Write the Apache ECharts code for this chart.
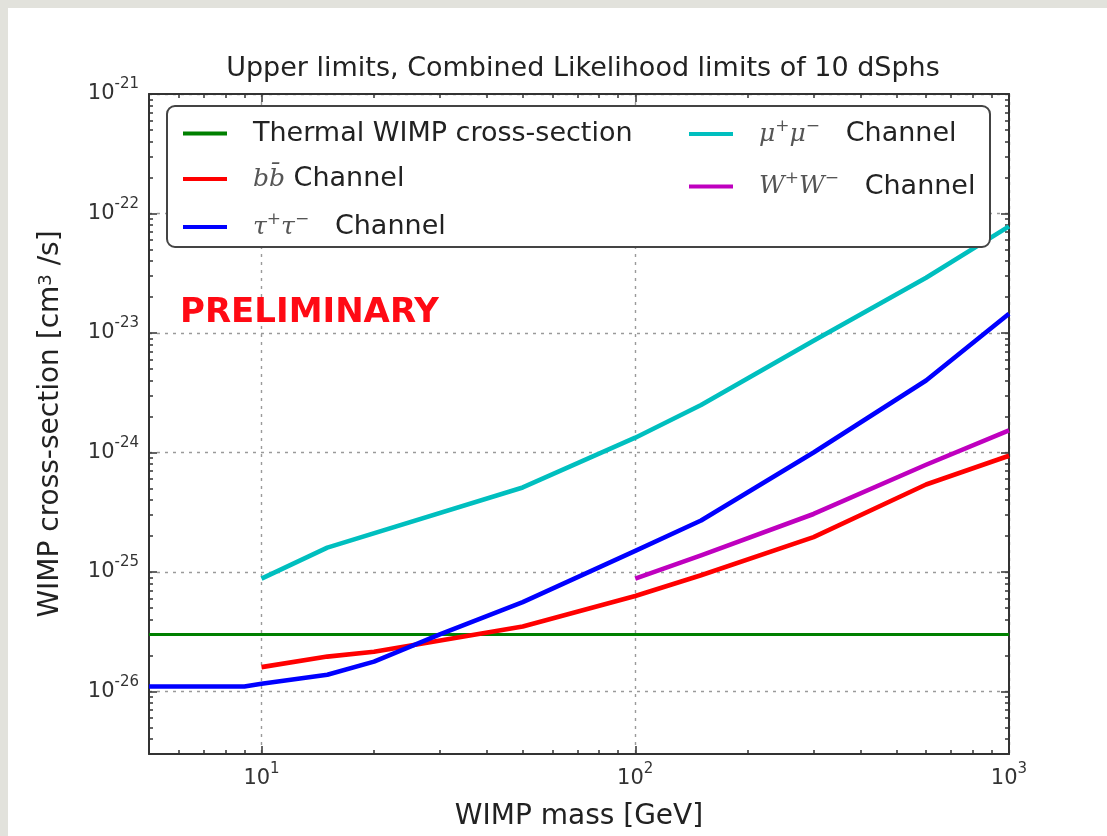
<!DOCTYPE html>
<html>
<head>
<meta charset="utf-8">
<script src="https://cdn.jsdelivr.net/npm/echarts@6/dist/echarts.min.js"></script>
<style>
  html, body { margin: 0; padding: 0; width: 1107px; height: 836px; overflow: hidden; background: #e2e2dc; }
  #chart { position: absolute; left: 8px; top: 8px; width: 1099px; height: 828px; background: #ffffff; }
</style>
</head>
<body>
<div id="chart"></div>
<script>
// WIMP annihilation cross-section upper limits (cm^3/s) vs WIMP mass (GeV)
const massThermal = [5, 1000];
const sigmaThermal = [3e-26, 3e-26];

const massBB = [10, 15, 20, 50, 100, 150, 300, 600, 1000];
const sigmaBB = [1.6e-26, 1.96e-26, 2.15e-26, 3.5e-26, 6.3e-26, 9.4e-26, 1.96e-25, 5.4e-25, 9.4e-25];

const massTau = [5, 9, 10, 15, 20, 30, 50, 100, 150, 300, 600, 1000];
const sigmaTau = [1.1e-26, 1.1e-26, 1.16e-26, 1.38e-26, 1.78e-26, 3.0e-26, 5.6e-26, 1.5e-25, 2.7e-25, 1.0e-24, 4.0e-24, 1.45e-23];

const massMu = [10, 15, 50, 100, 150, 300, 600, 1000];
const sigmaMu = [8.8e-26, 1.6e-25, 5.1e-25, 1.33e-24, 2.5e-24, 8.6e-24, 2.9e-23, 7.8e-23];

const massWW = [100, 150, 300, 600, 1000];
const sigmaWW = [8.8e-26, 1.38e-25, 3.06e-25, 7.9e-25, 1.53e-24];

const xMajorTicks = [10, 100, 1000];
const yMajorTicks = [1e-26, 1e-25, 1e-24, 1e-23, 1e-22, 1e-21];

const X_MIN = 5, X_MAX = 1000;
const Y_MIN = 3e-27, Y_MAX = 1e-21;

// The y axis works in units of 1e-26 cm^3/s so the log scale keeps full
// precision; tick labels are written back as powers of ten in cm^3/s.
const Y_UNIT_EXP = -26;
const toUnit = (v) => Number((v / Math.pow(10, Y_UNIT_EXP)).toPrecision(8));

const FONT = 'DejaVu Sans';
const MATH = 'DejaVu Serif';

// log-scale minor tick positions (2..9 x 10^n) inside a range
function minorTicks(lo, hi) {
  const out = [];
  for (let e = Math.floor(Math.log10(lo)); e <= Math.ceil(Math.log10(hi)); e++) {
    for (let k = 2; k <= 9; k++) {
      const v = Number((k * Math.pow(10, e)).toPrecision(6));
      if (v > lo * 1.0001 && v < hi * 0.9999) out.push(v);
    }
  }
  return out;
}
const xMinorTicks = minorTicks(X_MIN, X_MAX);
const yMinorTicks = minorTicks(toUnit(Y_MIN), toUnit(Y_MAX));

function pairs(xs, ys) { return xs.map((x, i) => [x, toUnit(ys[i])]); }

function xPowerLabel(v) {
  return '{b|10}{s|' + Math.round(Math.log10(v)) + '}';
}
function yPowerLabel(v) {
  return '{b|10}{s|' + (Math.round(Math.log10(v)) + Y_UNIT_EXP) + '}';
}
const tickRich = {
  b: { fontFamily: FONT, fontSize: 21, color: '#333', lineHeight: 34, verticalAlign: 'middle' },
  s: { fontFamily: FONT, fontSize: 15, color: '#333', lineHeight: 15, verticalAlign: 'top' }
};

const AX = '#333333';
const GRIDLINE = { show: true, lineStyle: { type: [3, 5], color: '#9a9a9a', width: 1.4 } };

function xAxisDef(position, ticks, len, isMain) {
  return {
    type: 'log', logBase: 10, min: X_MIN, max: X_MAX, position: position, gridIndex: 0,
    name: isMain ? 'WIMP mass [GeV]' : '',
    nameLocation: 'middle', nameGap: 49,
    nameTextStyle: { fontFamily: FONT, fontSize: 28, color: '#222' },
    axisLine: { show: len === 8, onZero: false, lineStyle: { color: AX, width: 2 } },
    axisTick: { show: true, inside: true, length: len, customValues: ticks, lineStyle: { color: AX, width: 1.5 } },
    axisLabel: isMain
      ? { show: true, customValues: xMajorTicks, formatter: xPowerLabel, rich: tickRich, margin: 8 }
      : { show: false },
    splitLine: isMain ? GRIDLINE : { show: false },
    minorTick: { show: false },
    minorSplitLine: { show: false }
  };
}
function yAxisDef(position, ticks, len, isMain) {
  return {
    type: 'log', logBase: 10, min: toUnit(Y_MIN), max: toUnit(Y_MAX), position: position, gridIndex: 0,
    name: isMain ? 'WIMP cross-section [cm{sup|3} /s]' : '',
    nameLocation: 'middle', nameGap: 84,
    nameTextStyle: {
      fontFamily: FONT, fontSize: 28, color: '#222',
      rich: { sup: { fontFamily: FONT, fontSize: 18, color: '#222', verticalAlign: 'top', lineHeight: 18 } }
    },
    axisLine: { show: len === 8, onZero: false, lineStyle: { color: AX, width: 2 } },
    axisTick: { show: true, inside: true, length: len, customValues: ticks, lineStyle: { color: AX, width: 1.5 } },
    axisLabel: isMain
      ? { show: true, customValues: yMajorTicks.map(toUnit), formatter: yPowerLabel, rich: tickRich, margin: 10 }
      : { show: false },
    splitLine: isMain ? GRIDLINE : { show: false },
    minorTick: { show: false },
    minorSplitLine: { show: false }
  };
}

const legendLabels = {
  'Thermal WIMP cross-section': '{t|Thermal WIMP cross-section}',
  'b b\u0304 Channel': '{m|bb\u0304}{t| Channel}',
  '\u03c4\u207a\u03c4\u207b Channel': '{m|\u03c4}{s|+}{m|\u03c4}{s|\u2212}{t|   Channel}',
  '\u03bc\u207a\u03bc\u207b Channel': '{m|\u03bc}{s|+}{m|\u03bc}{s|\u2212}{t|   Channel}',
  'W\u207aW\u207b Channel': '{m|W}{s|+}{m|W}{s|\u2212}{t|   Channel}'
};
const legendRich = {
  t: { fontFamily: FONT, fontSize: 27, color: '#222', lineHeight: 32, verticalAlign: 'middle' },
  m: { fontFamily: MATH, fontStyle: 'italic', fontSize: 25, color: '#555', lineHeight: 32, verticalAlign: 'middle' },
  s: { fontFamily: MATH, fontSize: 17, color: '#555', lineHeight: 20, verticalAlign: 'top' }
};

const seriesSpec = [
  { name: 'Thermal WIMP cross-section', color: '#008000', width: 3, x: massThermal, y: sigmaThermal },
  { name: 'b b\u0304 Channel', color: '#ff0000', width: 4.6, x: massBB, y: sigmaBB },
  { name: '\u03c4\u207a\u03c4\u207b Channel', color: '#0000ff', width: 4.6, x: massTau, y: sigmaTau },
  { name: '\u03bc\u207a\u03bc\u207b Channel', color: '#00bfbf', width: 4.6, x: massMu, y: sigmaMu },
  { name: 'W\u207aW\u207b Channel', color: '#bf00bf', width: 4.6, x: massWW, y: sigmaWW }
];

function legendDef(names, left, top, gap) {
  return {
    data: names, orient: 'vertical', left: left, top: top, padding: 0,
    itemWidth: 44, itemHeight: 4, itemGap: gap, icon: 'rect',
    selectedMode: false, z: 6,
    formatter: (n) => legendLabels[n],
    textStyle: { padding: [0, 0, 0, 21], rich: legendRich }
  };
}

const chart = echarts.init(document.getElementById('chart'), null, { renderer: 'canvas' });
chart.setOption({
  animation: false,
  backgroundColor: '#ffffff',
  textStyle: { fontFamily: FONT },
  title: {
    text: 'Upper limits, Combined Likelihood limits of 10 dSphs',
    left: 570, top: 40, textAlign: 'center',
    textStyle: { fontFamily: FONT, fontSize: 27, fontWeight: 'normal', color: '#222', lineHeight: 32 }
  },
  grid: { left: 141, top: 86, right: 98, bottom: 79, containLabel: false },
  xAxis: [
    xAxisDef('bottom', xMajorTicks, 8, true),
    xAxisDef('bottom', xMinorTicks, 4, false),
    xAxisDef('top', xMajorTicks, 8, false),
    xAxisDef('top', xMinorTicks, 4, false)
  ],
  yAxis: [
    yAxisDef('left', yMajorTicks.map(toUnit), 8, true),
    yAxisDef('left', yMinorTicks, 4, false),
    yAxisDef('right', yMajorTicks.map(toUnit), 8, false),
    yAxisDef('right', yMinorTicks, 4, false)
  ],
  legend: [
    legendDef(seriesSpec.slice(0, 3).map(s => s.name), 175, 112, 18.5),
    legendDef(seriesSpec.slice(3).map(s => s.name), 681, 110, 23)
  ],
  graphic: [
    {
      type: 'rect', z: 5, silent: true,
      shape: { x: 159, y: 98, width: 823, height: 141, r: 8 },
      style: { fill: '#ffffff', stroke: '#444', lineWidth: 2 }
    },
    {
      type: 'text', z: 5, silent: true, left: 172, top: 288,
      style: { text: 'PRELIMINARY', fontFamily: FONT, fontWeight: 'bold', fontSize: 34, fill: '#ff0a14' }
    }
  ],
  series: seriesSpec.map(s => ({
    name: s.name, type: 'line', xAxisIndex: 0, yAxisIndex: 0,
    data: pairs(s.x, s.y), showSymbol: false, symbol: 'none', smooth: false,
    color: s.color,
    lineStyle: { color: s.color, width: s.width, cap: 'butt', join: 'round' },
    clip: true, z: 2
  }))
});
</script>
</body>
</html>
